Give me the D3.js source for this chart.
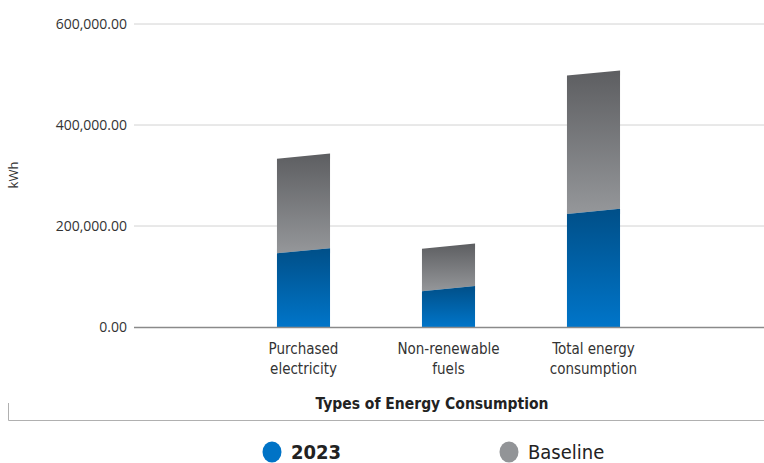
<!DOCTYPE html>
<html><head><meta charset="utf-8">
<script src="https://cdn.jsdelivr.net/npm/d3@7/dist/d3.min.js"></script>
<style>body{margin:0;background:#fff}svg{display:block}</style>
</head><body>
<svg id="c" width="764" height="463"></svg>
<script>
const categories = [["Purchased","electricity"],["Non-renewable","fuels"],["Total energy","consumption"]];
const values2023 = [151000, 76000, 229000];
const valuesBaseline = [338500, 160000, 503000];
const yTicks = [0, 200000, 400000, 600000];
const seriesNames = ["2023","Baseline"];

const svg = d3.select("#c");
const y = d3.scaleLinear().domain([0,600000]).range([327,24]);
const x = d3.scaleBand().domain(d3.range(categories.length)).range([231,666]).paddingInner(0.634).paddingOuter(0.317);
const narrow = "'Liberation Sans Narrow','DejaVu Sans Condensed',sans-serif";

const defs = svg.append("defs");
function grad(id, c1, c2){
  const g = defs.append("linearGradient").attr("id",id).attr("x1",0).attr("y1",0).attr("x2",0).attr("y2",1);
  g.append("stop").attr("offset","0%").attr("stop-color",c1);
  g.append("stop").attr("offset","100%").attr("stop-color",c2);
}
grad("gGray","#5d5e61","#95979a");
grad("gBlue","#004f88","#0075c9");

// grid
const yAxis = d3.axisLeft(y).tickValues(yTicks).tickSize(0).tickPadding(7)
  .tickFormat(d=>d3.format(",.2f")(d));
const gy = svg.append("g").attr("transform","translate(134,0)").call(yAxis);
gy.select(".domain").remove();
gy.selectAll("text").attr("font-family","'Open Sans',sans-serif").attr("font-size",14).attr("fill","#333").attr("dy","0.32em");
svg.append("g").selectAll("line").data(yTicks.filter(d=>d>0)).join("line")
  .attr("x1",134).attr("x2",764).attr("y1",d=>y(d)).attr("y2",d=>y(d))
  .attr("stroke","#d2d2d2").attr("stroke-width",1);

const slant = 2.6;
function poly(i, v0, v1){
  const x0 = x(i), x1 = x(i)+x.bandwidth();
  const top0 = y(v1)+slant, top1 = y(v1)-slant;
  const b0 = v0===0 ? y(0) : y(v0)+slant, b1 = v0===0 ? y(0) : y(v0)-slant;
  return `M${x0},${b0}L${x0},${top0}L${x1},${top1}L${x1},${b1}Z`;
}
const bars = svg.append("g");
categories.forEach((c,i)=>{
  bars.append("path").attr("d",poly(i, values2023[i], valuesBaseline[i])).attr("fill","url(#gGray)");
  bars.append("path").attr("d",poly(i, 0, values2023[i])).attr("fill","url(#gBlue)");
});

// baseline axis
svg.append("line").attr("x1",134).attr("x2",764).attr("y1",y(0)+0.5).attr("y2",y(0)+0.5)
  .attr("stroke","#8a8a8a").attr("stroke-width",1.5);

// category labels
const xl = svg.append("g");
categories.forEach((c,i)=>{
  const t = xl.append("text").attr("x",x(i)+x.bandwidth()/2).attr("y",354)
    .attr("text-anchor","middle").attr("font-family",narrow).attr("font-size",15).attr("fill","#333");
  c.forEach((line,j)=>t.append("tspan").attr("x",x(i)+x.bandwidth()/2).attr("dy",j?20:0).text(line));
});

svg.append("text").attr("x",432).attr("y",409).attr("text-anchor","middle")
  .attr("font-family",narrow).attr("font-weight","bold").attr("font-size",15.5).attr("fill","#222")
  .text("Types of Energy Consumption");

svg.append("text").attr("transform","translate(18,175) rotate(-90)").attr("text-anchor","middle")
  .attr("font-family","'Open Sans',sans-serif").attr("font-size",13).attr("fill","#333").text("kWh");

// bracket
svg.append("path").attr("d","M8.5,403V420.5H764").attr("fill","none").attr("stroke","#b0b0b0").attr("stroke-width",1);

// legend
const legend = [{name:seriesNames[0], color:"#0073c6", x:272, bold:true},{name:seriesNames[1], color:"#929497", x:509, bold:false}];
legend.forEach(l=>{
  svg.append("ellipse").attr("cx",l.x).attr("cy",452).attr("rx",9.5).attr("ry",10.5).attr("fill",l.color);
  svg.append("text").attr("x",l.x+19).attr("y",459).attr("font-family",narrow)
    .attr("font-size",20).attr("font-weight",l.bold?"bold":"normal").attr("fill","#222").text(l.name);
});
</script>
</body></html>
